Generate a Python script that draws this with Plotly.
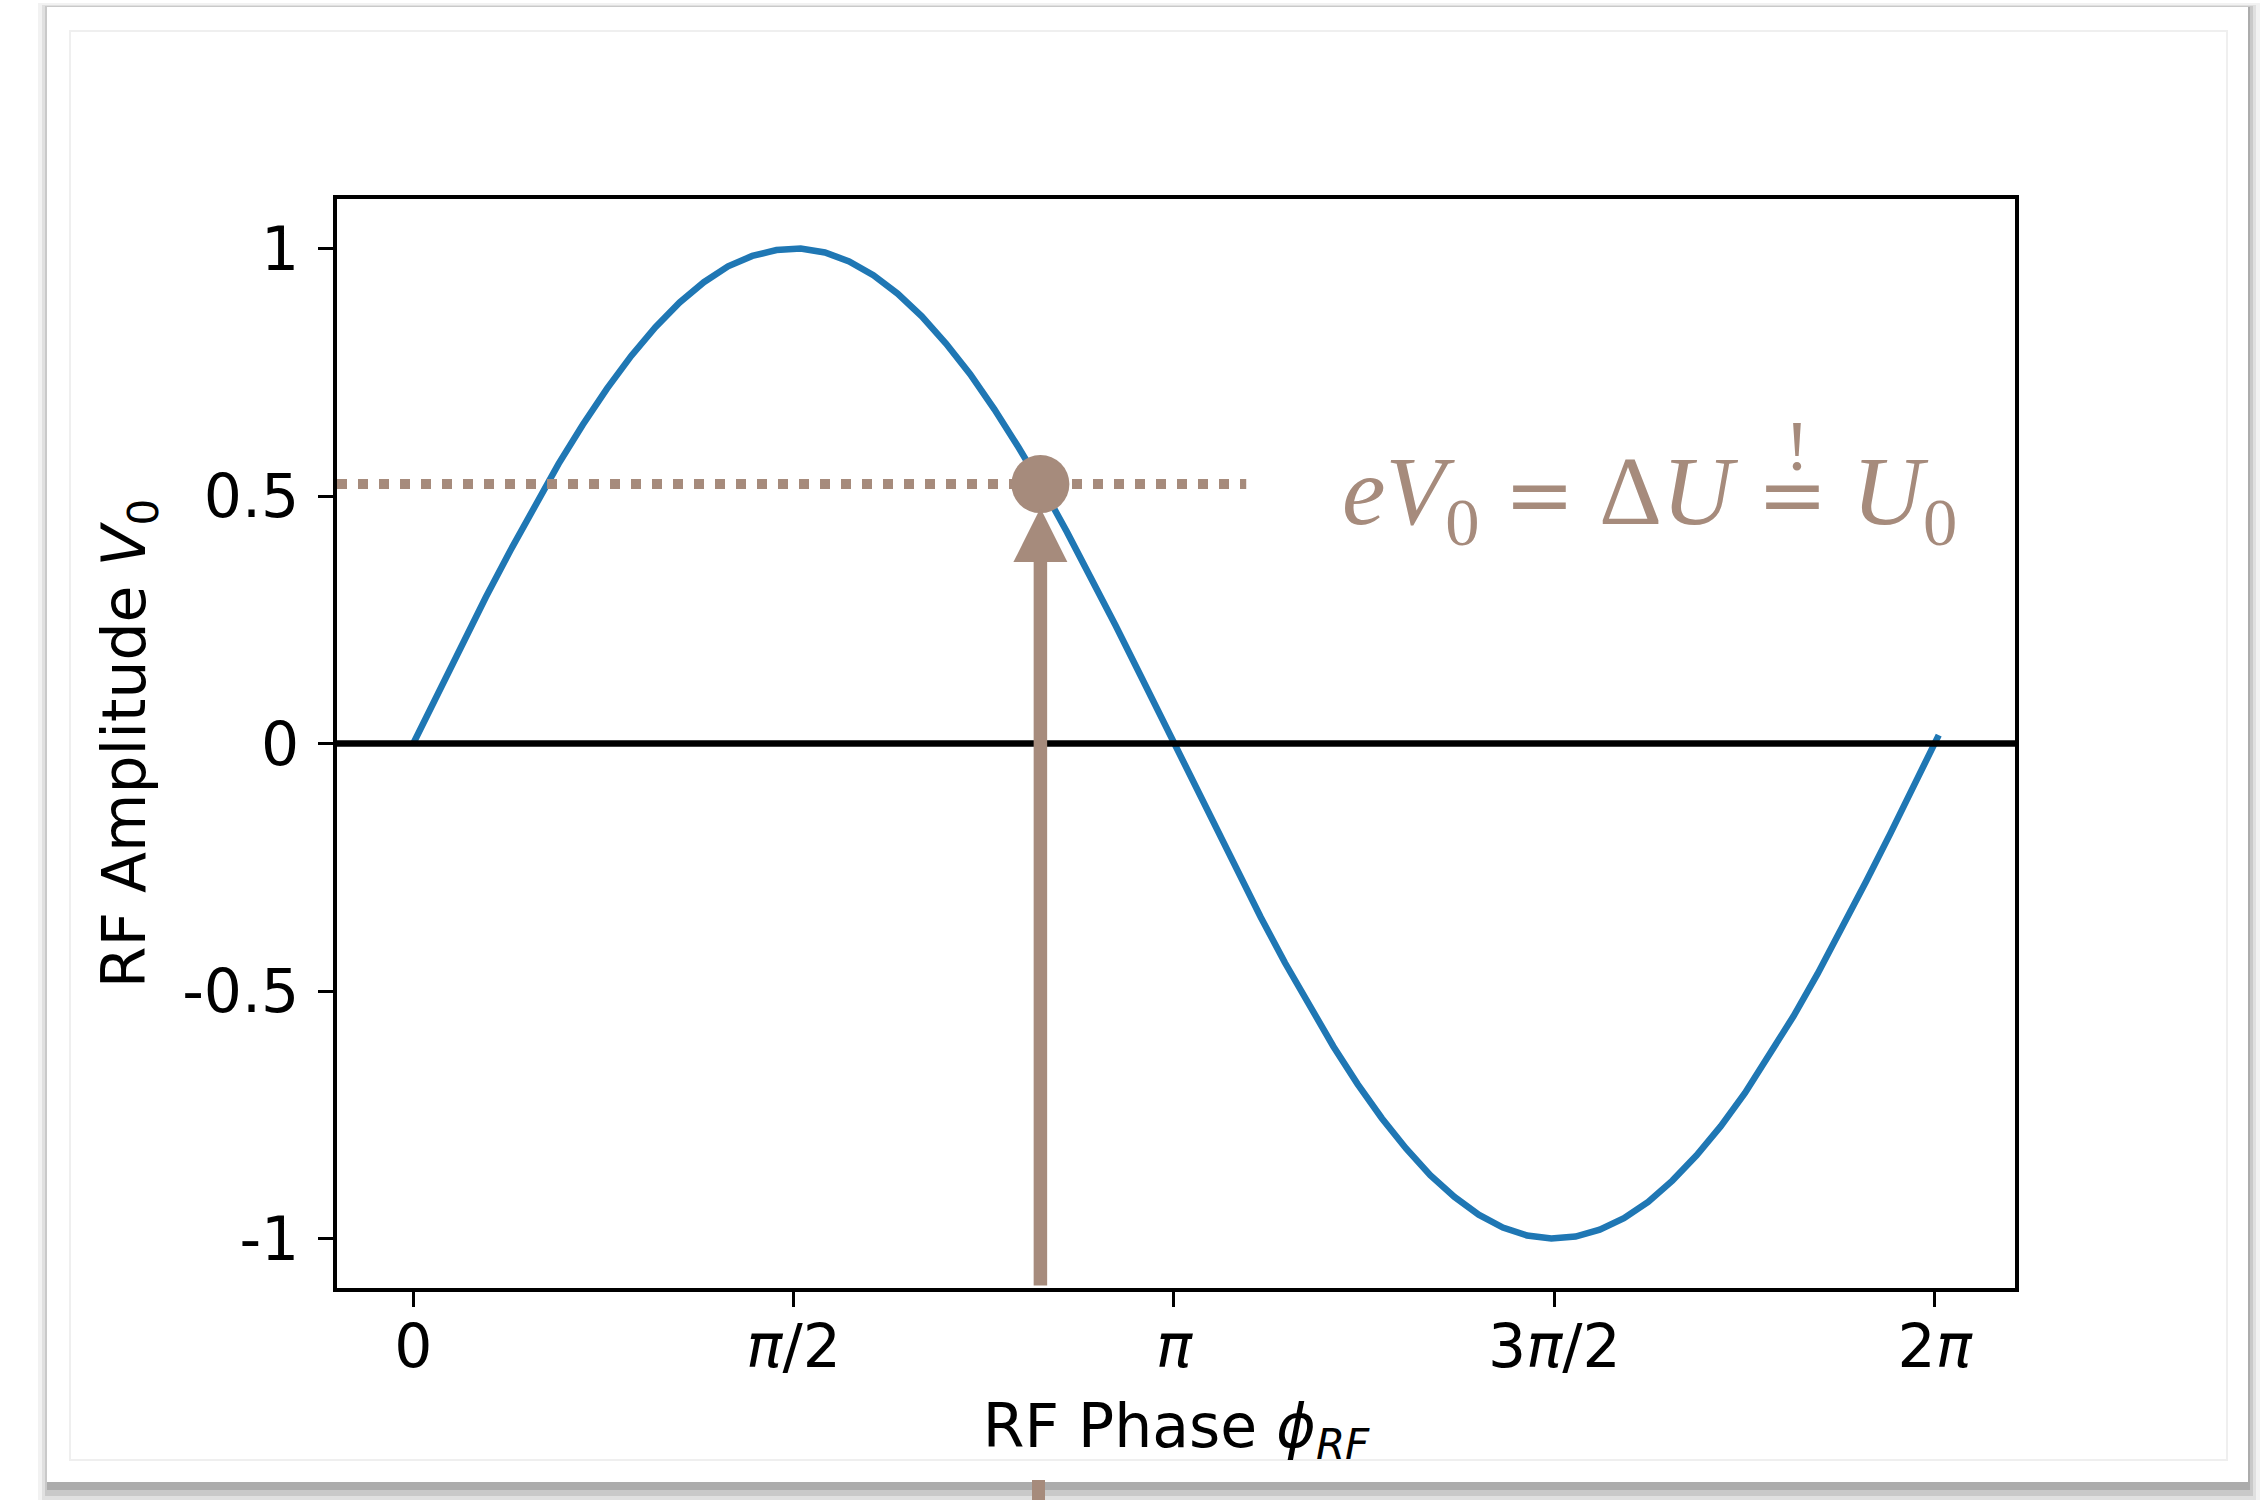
import plotly.graph_objects as go

# ---- data -------------------------------------------------------------
# RF phase samples (rad) and the corresponding RF amplitude
phase = [0.0, 0.1, 0.2, 0.3, 0.4, 0.5, 0.6, 0.7, 0.8, 0.9,
         1.0, 1.1, 1.2, 1.3, 1.4, 1.5, 1.6, 1.7, 1.8, 1.9,
         2.0, 2.1, 2.2, 2.3, 2.4, 2.5, 2.6, 2.7, 2.8, 2.9,
         3.0, 3.1, 3.2, 3.3, 3.4, 3.5, 3.6, 3.7, 3.8, 3.9,
         4.0, 4.1, 4.2, 4.3, 4.4, 4.5, 4.6, 4.7, 4.8, 4.9,
         5.0, 5.1, 5.2, 5.3, 5.4, 5.5, 5.6, 5.7, 5.8, 5.9,
         6.0, 6.1, 6.2, 6.3]
amplitude = [0.000, 0.100, 0.199, 0.296, 0.389, 0.479, 0.565, 0.644, 0.717, 0.783,
             0.841, 0.891, 0.932, 0.964, 0.985, 0.997, 1.000, 0.992, 0.974, 0.946,
             0.909, 0.863, 0.808, 0.746, 0.675, 0.598, 0.516, 0.427, 0.335, 0.239,
             0.141, 0.042, -0.058, -0.158, -0.256, -0.351, -0.443, -0.530, -0.612, -0.688,
             -0.757, -0.818, -0.872, -0.916, -0.952, -0.978, -0.994, -1.000, -0.996, -0.982,
             -0.959, -0.926, -0.883, -0.832, -0.773, -0.706, -0.631, -0.551, -0.465, -0.374,
             -0.279, -0.182, -0.083, 0.017]

# energy-loss level U0 and the synchronous phase where the voltage matches it
loss_level = 0.524
loss_line_phase = [-0.315, 3.44]
sync_phase = 2.59
arrow_base = -1.095

# axis ticks
x_tickvals = [0.0, 1.5708, 3.1416, 4.7124, 6.2832]
x_ticktext = ["0", "<i>π</i>/2", "<i>π</i>", "3<i>π</i>/2", "2<i>π</i>"]
y_tickvals = [1.0, 0.5, 0.0, -0.5, -1.0]
y_ticktext = ["1", "0.5", "0", "-0.5", "-1"]
x_range = [-0.315, 6.615]
y_range = [-1.1, 1.1]

# ---- styling ----------------------------------------------------------
W, H = 2265, 1500
ML, MR, MT, MB = 337, 250, 199, 212
PW, PH = W - ML - MR, H - MT - MB
BLUE = "#1f77b4"
BROWN = "rgb(166,139,124)"
SANS = "DejaVu Sans"
SERIF = "Liberation Serif"


def px(x):
    """figure pixel column -> paper x"""
    return (x - ML) / PW


def py(y):
    """figure pixel row -> paper y"""
    return 1 - (y - MT) / PH


fig = go.Figure()

fig.add_trace(go.Scatter(x=phase, y=amplitude, mode="lines",
                         line=dict(color=BLUE, width=6.5), showlegend=False))
fig.add_trace(go.Scatter(x=loss_line_phase, y=[loss_level, loss_level], mode="lines",
                         line=dict(color=BROWN, width=10, dash="10px,11px"),
                         showlegend=False))
fig.add_trace(go.Scatter(x=[sync_phase], y=[loss_level], mode="markers",
                         marker=dict(color=BROWN, size=58, line=dict(width=0)),
                         showlegend=False))

shapes = []

# card with a soft drop shadow behind the plot
for (x0, y0, x1, y1, a) in [(38, 3, 2260, 1500, 0.05), (42, 5, 2256, 1500, 0.07),
                            (45, 6, 2253, 1496, 0.10), (47, 7, 2250, 1490, 0.14)]:
    shapes.append(dict(type="rect", xref="paper", yref="paper", layer="below",
                       x0=px(x0), x1=px(x1), y0=py(y0), y1=py(y1),
                       fillcolor=f"rgba(0,0,0,{a})", line=dict(width=0)))
shapes.append(dict(type="rect", xref="paper", yref="paper", layer="below",
                   x0=px(47), x1=px(2248), y0=py(7), y1=py(1482),
                   fillcolor="white", line=dict(width=0)))
shapes.append(dict(type="rect", xref="paper", yref="paper", layer="below",
                   x0=px(70), x1=px(2227), y0=py(31), y1=py(1460),
                   fillcolor="rgba(0,0,0,0)", line=dict(color="#efefef", width=2)))

# zero line drawn over the curve
shapes.append(dict(type="line", xref="x domain", yref="y", x0=0, x1=1, y0=0, y1=0,
                   line=dict(color="black", width=6.5), layer="above"))

# arrow pointing up to the synchronous phase
shapes.append(dict(type="rect", xref="x", yref="y", xsizemode="pixel", xanchor=sync_phase,
                   x0=-6.75, x1=6.75, y0=arrow_base, y1=loss_level - 0.12,
                   fillcolor=BROWN, line=dict(width=0), layer="above"))
shapes.append(dict(type="path", xref="x", yref="y", xsizemode="pixel", ysizemode="pixel",
                   xanchor=sync_phase, yanchor=loss_level,
                   path="M -27,-78 L 27,-78 L 0,-24 Z",
                   fillcolor=BROWN, line=dict(width=0), layer="above"))
# tail of the arrow peeking below the card
shapes.append(dict(type="rect", xref="paper", yref="paper",
                   x0=px(1032), x1=px(1045), y0=py(1480), y1=py(1500),
                   fillcolor=BROWN, line=dict(width=0), layer="above"))

EQ = "<span style='font-family:DejaVu Serif;font-size:84px'>=</span>"
annotations = [
    dict(xref="paper", yref="paper", x=px(1340), y=py(498), xanchor="left", yanchor="middle",
         text=f"<i>eV</i><sub>0</sub> {EQ} Δ<i>U</i> {EQ} <i>U</i><sub>0</sub>", showarrow=False,
         font=dict(family=SERIF, size=98, color=BROWN)),
    dict(xref="paper", yref="paper", x=px(1797), y=py(446), xanchor="center", yanchor="middle",
         text="!", showarrow=False, font=dict(family=SERIF, size=72, color=BROWN)),
]

axis_common = dict(showline=True, mirror=True, linecolor="black", linewidth=3.5,
                   ticks="outside", ticklen=15, tickwidth=3, tickcolor="black",
                   showgrid=False, zeroline=False, automargin=False,
                   tickfont=dict(family=SANS, size=60, color="black"))

fig.update_layout(
    width=W, height=H,
    margin=dict(l=ML, r=MR, t=MT, b=MB, pad=0),
    paper_bgcolor="white", plot_bgcolor="rgba(0,0,0,0)",
    shapes=shapes, annotations=annotations, showlegend=False,
    xaxis=dict(range=x_range, tickvals=x_tickvals, ticktext=x_ticktext,
               title=dict(text="RF Phase <i>ϕ</i><sub><i>RF</i></sub>",
                          font=dict(family=SANS, size=60, color="black"), standoff=26),
               ticklabelstandoff=-12, **axis_common),
    yaxis=dict(range=y_range, tickvals=y_tickvals, ticktext=y_ticktext,
               title=dict(text="RF Amplitude <i>V</i><sub>0</sub>",
                          font=dict(family=SANS, size=60, color="black"), standoff=18),
               ticklabelstandoff=7, **axis_common),
)

fig.write_html("out.html")
